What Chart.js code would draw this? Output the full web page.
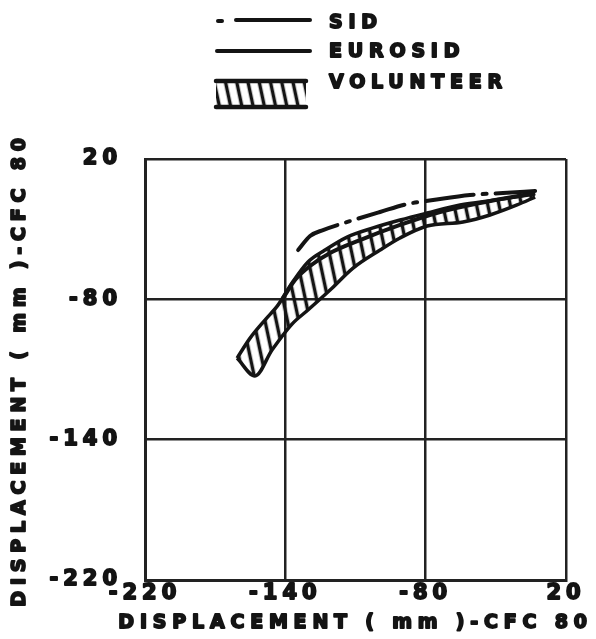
<!DOCTYPE html>
<html><head><meta charset="utf-8">
<script src="https://cdn.jsdelivr.net/npm/chart.js@4/dist/chart.umd.min.js"></script>
<style>html,body{margin:0;padding:0;background:#fff}#wrap{width:596px;height:639px;position:relative}</style>
</head><body><div id="wrap"><canvas id="c"></canvas></div>
<script>
// ---- data ----
const seriesNames = ['SID', 'EUROSID', 'VOLUNTEER'];
const xTickLabels = ['-220', '-140', '-80', '20'];
const yTickLabels = ['-220', '-140', '-80', '20'];
const axisTitle = 'DISPLACEMENT ( mm )-CFC 80';

const sidX = [-132.7, -125.9, -118.5, -103.1, -86.0, -70.6, -55.8, -34.7, -15.9, 2.4];
const sidY = [-31.9, -23.9, -20.5, -15.4, -10.2, -5.7, -3.4, -0.5, 0.6, 1.8];

const eurosidX = [-141.3, -134.5, -125.9, -114.5, -97.4, -74.6, -51.8, -29.0, 2.4];
const eurosidY = [-59.3, -49.0, -41.0, -33.6, -26.2, -17.6, -10.2, -5.1, 0.6];

const volUpperX = [-167.5, -160.1, -151.6, -144.2, -136.2, -127.1, -117.4, -104.8, -90.0, -74.6, -59.2, -40.4, -20.4, 2.4];
const volUpperY = [-93.5, -82.1, -71.8, -63.3, -50.7, -38.7, -31.9, -24.5, -19.3, -14.8, -10.8, -6.2, -3.4, 0.0];
const volLowerX = [-167.5, -157.3, -147.6, -136.2, -127.1, -114.5, -101.4, -86.0, -74.6, -59.2, -38.7, -23.3, -7.9, 2.4];
const volLowerY = [-93.5, -103.7, -88.9, -74.1, -66.1, -54.7, -42.2, -31.9, -25.0, -18.2, -15.9, -11.9, -6.2, -1.7];

// ---- helpers ----
const pts = (xs, ys) => xs.map((x, i) => ({x, y: ys[i]}));
const INK = '#141414';
const FONT = '"DejaVu Sans", "Liberation Sans", sans-serif';
const TEXT_SPACING = '5.8px';
const TICK_SPACING = '5px';
const TEXT_STROKE = 1.8;

function makeHatch(ctx) {
  const c = document.createElement('canvas');
  c.width = 11; c.height = 11;
  const g = c.getContext('2d');
  g.strokeStyle = INK; g.lineWidth = 3.5;
  g.beginPath(); g.moveTo(5.5, -2); g.lineTo(5.5, 13); g.stroke();
  const p = ctx.createPattern(c, 'repeat');
  p.setTransform(new DOMMatrix().rotateSelf(-12));
  return p;
}

// heavy plotter-like lettering: every text is filled and outlined, with wide letter spacing
function patchText(ctx) {
  if (ctx.__patched) return;
  const origFill = ctx.fillText;
  ctx.fillText = function (text, x, y) {
    this.save();
    const m = /(\d+(?:\.\d+)?)px/.exec(this.font);
    const size = m ? parseFloat(m[1]) : 12;
    this.letterSpacing = size >= 20.5 ? TICK_SPACING : TEXT_SPACING;
    this.setLineDash([]);
    this.lineWidth = TEXT_STROKE; this.lineJoin = 'round';
    this.strokeStyle = this.fillStyle;
    this.strokeText(text, x, y);
    origFill.call(this, text, x, y);
    this.restore();
  };
  ctx.__patched = true;
}

const canvas = document.getElementById('c');
const ctx0 = canvas.getContext('2d');
const hatch = makeHatch(ctx0);

const textPlugin = {
  id: 'plotterText',
  beforeInit(c) { patchText(c.ctx); },
  beforeDraw(c) { patchText(c.ctx); }
};

const legendPlugin = {
  id: 'customLegend',
  afterDraw(chart) {
    const ctx = chart.ctx;
    ctx.save();
    ctx.strokeStyle = INK; ctx.fillStyle = INK;
    ctx.lineCap = 'round'; ctx.lineWidth = 4;
    // SID sample: dot + long dash
    ctx.beginPath(); ctx.moveTo(218, 21); ctx.lineTo(222, 21); ctx.stroke();
    ctx.beginPath(); ctx.moveTo(236, 20); ctx.lineTo(310, 20); ctx.stroke();
    // EUROSID sample
    ctx.beginPath(); ctx.moveTo(217, 51); ctx.lineTo(310, 51); ctx.stroke();
    // VOLUNTEER sample: hatched box with top/bottom bars
    ctx.save();
    ctx.beginPath(); ctx.rect(216, 80, 90, 28); ctx.clip();
    ctx.fillStyle = hatch; ctx.fillRect(216, 80, 90, 28);
    ctx.restore();
    ctx.lineWidth = 4.5;
    ctx.beginPath(); ctx.moveTo(216, 81); ctx.lineTo(306, 81); ctx.stroke();
    ctx.beginPath(); ctx.moveTo(216, 107); ctx.lineTo(306, 107); ctx.stroke();
    // labels
    ctx.font = 'bold 19px ' + FONT;
    ctx.textBaseline = 'middle'; ctx.textAlign = 'left';
    ctx.fillText(seriesNames[0], 329, 23);
    ctx.fillText(seriesNames[1], 329, 52);
    ctx.fillText(seriesNames[2], 329, 83);
    ctx.restore();
  }
};

const tickFont = {family: FONT, size: 21, weight: 'bold'};
const titleFont = {family: FONT, size: 19, weight: 'bold'};
const lineOpts = {showLine: true, pointRadius: 0, cubicInterpolationMode: 'monotone', borderColor: INK};

new Chart(canvas, {
  type: 'scatter',
  data: {
    datasets: [
      {...lineOpts, label: seriesNames[2], data: pts(volUpperX, volUpperY), fill: '+1',
       backgroundColor: hatch, borderWidth: 3.5},
      {...lineOpts, label: seriesNames[2] + ' lower', data: pts(volLowerX, volLowerY), fill: false,
       borderWidth: 3.5},
      {...lineOpts, label: seriesNames[1], data: pts(eurosidX, eurosidY), fill: false, borderWidth: 4},
      {...lineOpts, label: seriesNames[0], data: pts(sidX, sidY), fill: false, borderWidth: 4,
       borderDash: [48, 9, 4, 9], borderCapStyle: 'round'}
    ]
  },
  options: {
    responsive: true, maintainAspectRatio: false, animation: false,
    layout: {padding: {top: 159, right: 30, left: 0, bottom: 0}},
    plugins: {legend: {display: false}, tooltip: {enabled: false}},
    scales: {
      x: {
        type: 'linear', min: -220, max: 20,
        ticks: {stepSize: 80, autoSkip: false, maxRotation: 0, padding: 1, color: INK, font: tickFont,
                callback: (v, i) => xTickLabels[i]},
        grid: {color: '#222', lineWidth: 2.5, drawTicks: false},
        border: {color: '#222', width: 3},
        title: {display: true, text: axisTitle, color: INK, font: titleFont, padding: {top: 0, bottom: 5}},
        afterFit(s) { s.height = 59; }
      },
      y: {
        type: 'linear', min: -220, max: 20,
        ticks: {stepSize: 80, autoSkip: false, padding: 23, color: INK, font: tickFont,
                callback: (v, i) => yTickLabels[i]},
        grid: {color: '#222', lineWidth: 2.5, drawTicks: false},
        border: {color: '#222', width: 3},
        title: {display: true, text: axisTitle, color: INK, font: titleFont, padding: {top: 9, bottom: 0}},
        afterFit(s) { s.width = 145; }
      }
    }
  },
  plugins: [textPlugin, legendPlugin]
});
</script>
</body></html>
